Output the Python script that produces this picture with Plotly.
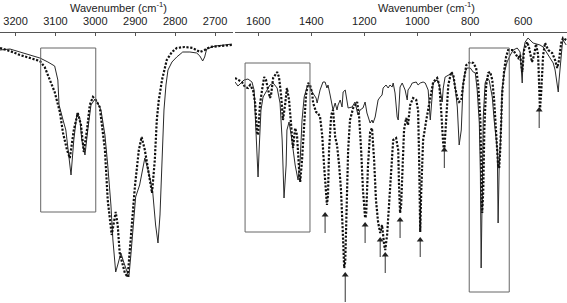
import plotly.graph_objects as go

# ---------------- data: high-wavenumber region (left panel) ----------------
left_solid_wn = [3239, 3214, 3189, 3164, 3139, 3119, 3102, 3094, 3091, 3081, 3074, 3061, 3054, 3046,
                 3039, 3034, 3026, 3019, 3011, 3001, 2994, 2986, 2976, 2969, 2961, 2956, 2949, 2944,
                 2936, 2929, 2924, 2916, 2911, 2906, 2899, 2889, 2881, 2876, 2866, 2856, 2849, 2843,
                 2838, 2833, 2828, 2823, 2818, 2808, 2796, 2781, 2763, 2746, 2738, 2731, 2726, 2721,
                 2700, 2676, 2658]
left_solid_T = [253, 254, 251, 248, 245, 241, 237, 223, 198, 183, 173, 128, 163, 190,
                185, 163, 148, 173, 198, 204, 200, 193, 168, 138, 98, 63, 31, 38,
                50, 41, 35, 26, 48, 70, 106, 118, 133, 145, 130, 110, 78, 60,
                88, 138, 193, 218, 233, 241, 246, 251, 251, 250, 247, 242, 246, 254,
                257, 258, 259]

left_dot_wn = [3239, 3214, 3189, 3164, 3139, 3127, 3114, 3102, 3089, 3081, 3071, 3064, 3054, 3044,
               3036, 3029, 3021, 3014, 3006, 2999, 2989, 2976, 2969, 2959, 2949, 2944, 2939, 2926,
               2919, 2911, 2901, 2891, 2884, 2876, 2866, 2858, 2851, 2846, 2841, 2833, 2821, 2808,
               2796, 2776, 2756, 2738, 2726, 2713, 2688, 2658]
left_dot_T = [255, 252, 248, 245, 242, 236, 223, 211, 191, 170, 153, 145, 173, 190,
              178, 151, 173, 198, 206, 203, 196, 153, 103, 68, 91, 78, 50, 30,
              26, 70, 116, 153, 166, 153, 130, 110, 143, 183, 203, 223, 243, 251,
              255, 256, 255, 251, 253, 256, 257, 258]

# ---------------- data: fingerprint region (right panel) ----------------
right_solid_wn = [1688, 1677, 1665, 1654, 1639, 1624, 1616, 1612, 1605, 1601, 1597, 1590, 1582, 1567,
                  1556, 1544, 1529, 1518, 1510, 1503, 1495, 1492, 1484, 1476, 1469, 1461, 1450, 1442,
                  1435, 1427, 1416, 1408, 1397, 1382, 1378, 1367, 1356, 1348, 1341, 1337, 1329, 1322,
                  1318, 1310, 1303, 1299, 1291, 1284, 1280, 1272, 1265, 1261, 1246, 1235, 1224, 1216,
                  1205, 1197, 1190, 1186, 1178, 1171, 1167, 1159, 1152, 1148, 1140, 1133, 1129, 1118,
                  1110, 1103, 1095, 1091, 1084, 1076, 1072, 1069, 1065, 1057, 1046, 1038, 1035, 1027,
                  1019, 1004, 997, 989, 978, 970, 959, 951, 944, 940, 925, 917, 906, 902,
                  895, 883, 868, 864, 857, 849, 846, 842, 834, 830, 827, 819, 812, 800,
                  789, 781, 774, 766, 762, 759, 755, 751, 744, 736, 729, 717, 710, 698,
                  695, 691, 683, 680, 672, 661, 649, 638, 623, 612, 604, 600, 593, 582,
                  563, 548, 537, 525, 510, 499, 487, 480, 472, 468, 465, 461, 453, 450, 438]
right_solid_T = [221, 217, 220, 223, 224, 221, 213, 193, 153, 126, 153, 193, 206, 213,
                 218, 220, 215, 200, 163, 105, 138, 173, 181, 168, 151, 138, 123, 143,
                 183, 206, 216, 218, 211, 205, 200, 213, 221, 221, 215, 218, 208, 200,
                 193, 200, 193, 198, 203, 196, 211, 213, 203, 195, 196, 201, 188, 193,
                 195, 201, 190, 186, 180, 183, 180, 186, 196, 203, 206, 208, 215, 218,
                 215, 218, 216, 220, 210, 186, 183, 206, 216, 220, 213, 203, 213, 216,
                 220, 221, 218, 220, 221, 220, 213, 183, 210, 220, 223, 218, 201, 215,
                 226, 228, 230, 226, 216, 196, 170, 158, 173, 196, 220, 231, 235, 235,
                 231, 230, 213, 180, 130, 35, 103, 186, 220, 225, 223, 206, 183, 153,
                 80, 136, 180, 213, 230, 241, 248, 253, 255, 251, 220, 251, 261, 265,
                 260, 259, 258, 256, 250, 246, 240, 233, 218, 211, 223, 238, 258, 263, 258]

right_dot_wn = [1688, 1677, 1662, 1650, 1639, 1631, 1620, 1612, 1609, 1605, 1601, 1594, 1586, 1578,
                1571, 1563, 1556, 1552, 1544, 1529, 1522, 1514, 1507, 1499, 1492, 1484, 1476, 1469,
                1461, 1454, 1446, 1442, 1435, 1427, 1420, 1412, 1405, 1397, 1393, 1382, 1375, 1367,
                1359, 1352, 1344, 1341, 1337, 1333, 1325, 1318, 1310, 1303, 1295, 1288, 1280, 1276,
                1272, 1265, 1261, 1254, 1242, 1227, 1220, 1212, 1205, 1197, 1193, 1186, 1178, 1171,
                1163, 1156, 1148, 1140, 1133, 1125, 1121, 1114, 1106, 1099, 1091, 1080, 1072, 1069,
                1065, 1061, 1057, 1050, 1042, 1035, 1027, 1016, 1004, 997, 993, 989, 985, 978,
                966, 951, 940, 925, 917, 910, 902, 898, 891, 883, 872, 864, 857, 849,
                842, 834, 827, 815, 800, 789, 778, 770, 762, 759, 755, 751, 747, 740,
                732, 725, 717, 710, 702, 695, 691, 687, 680, 672, 665, 657, 649, 638,
                627, 619, 612, 604, 597, 585, 578, 567, 559, 552, 544, 540, 537, 533,
                525, 518, 506, 491, 480, 472, 465, 457, 450, 438]
right_dot_T = [225, 223, 221, 216, 215, 218, 213, 200, 183, 171, 168, 198, 213, 226,
               223, 213, 205, 208, 225, 231, 226, 208, 183, 198, 215, 203, 178, 155,
               175, 168, 133, 121, 143, 183, 208, 220, 218, 210, 200, 191, 190, 186,
               168, 138, 103, 98, 108, 153, 188, 193, 166, 158, 138, 113, 63, 35,
               41, 103, 153, 183, 195, 201, 188, 153, 113, 85, 88, 138, 171, 175,
               143, 103, 81, 70, 78, 58, 53, 68, 103, 138, 163, 165, 153, 118,
               90, 98, 123, 173, 185, 178, 198, 205, 203, 193, 143, 71, 113, 163,
               183, 203, 221, 225, 218, 193, 158, 153, 188, 218, 231, 228, 215, 205,
               201, 203, 218, 238, 241, 240, 235, 218, 183, 133, 90, 113, 173, 218,
               230, 231, 223, 203, 163, 138, 135, 153, 208, 233, 246, 253, 253, 253,
               248, 245, 248, 231, 253, 261, 255, 241, 248, 259, 248, 203, 193, 208,
               248, 260, 253, 250, 243, 235, 243, 260, 265, 263]

# marked bands (arrows) on the dotted spectrum
arrow_wn = [1348, 1272, 1197, 1140, 1121, 1065, 989, 898, 540]
arrow_tip_T = [90, 30, 80, 65, 50, 85, 65, 155, 195]
arrow_tail_T = [70, 1, 60, 46, 30, 65, 46, 135, 175]

# highlighted regions (boxes): (axis, wn_start, wn_end, T_low, T_high)
boxes = [("x", 3137, 2999, 91, 255),
         ("x2", 1650, 1405, 71, 240),
         ("x2", 804, 653, 11, 255)]

left_ticks = [3200, 3100, 3000, 2900, 2800, 2700]
right_ticks = [1600, 1400, 1200, 1000, 800, 600]
axis_title = "Wavenumber (cm<sup>-1</sup>)"

W, H = 567, 303
FONT = "Arial, 'Liberation Sans', sans-serif"

fig = go.Figure()
solid_style = dict(color="#2a2a2a", width=1)
dot_style = dict(color="#111111", width=2.2, dash="2.2px,1.6px")

fig.add_trace(go.Scatter(x=left_solid_wn, y=left_solid_T, mode="lines", line=solid_style,
                         xaxis="x", yaxis="y"))
fig.add_trace(go.Scatter(x=left_dot_wn, y=left_dot_T, mode="lines", line=dot_style,
                         xaxis="x", yaxis="y"))
fig.add_trace(go.Scatter(x=right_solid_wn, y=right_solid_T, mode="lines", line=solid_style,
                         xaxis="x2", yaxis="y"))
fig.add_trace(go.Scatter(x=right_dot_wn, y=right_dot_T, mode="lines", line=dot_style,
                         xaxis="x2", yaxis="y"))

for ax, x0, x1, y0, y1 in boxes:
    fig.add_shape(type="rect", xref=ax, yref="y", x0=x0, x1=x1, y0=y0, y1=y1,
                  line=dict(color="#666666", width=1), fillcolor="rgba(0,0,0,0)")

# arrows: shafts + arrow heads (triangle markers at the tips)
shaft_x, shaft_y = [], []
for wn, tip, tail in zip(arrow_wn, arrow_tip_T, arrow_tail_T):
    shaft_x += [wn, wn, None]
    shaft_y += [tip - 3, tail, None]
fig.add_trace(go.Scatter(x=shaft_x, y=shaft_y, mode="lines",
                         line=dict(color="#333333", width=1), xaxis="x2", yaxis="y"))
fig.add_trace(go.Scatter(x=arrow_wn, y=[t - 2 for t in arrow_tip_T], mode="markers",
                         marker=dict(symbol="triangle-up", size=6, color="#222222",
                                     line=dict(width=0)),
                         xaxis="x2", yaxis="y", cliponaxis=False))

for xc in (118 / W, 426 / W):
    fig.add_annotation(x=xc, y=(H - 7) / H, xref="paper", yref="paper", text=axis_title,
                       showarrow=False, xanchor="center", yanchor="middle",
                       font=dict(family=FONT, size=11, color="#222222"))

common_x = dict(side="top", anchor="y", showline=True, linecolor="#555555", linewidth=1,
                ticks="inside", ticklen=3, tickcolor="#555555", showgrid=False,
                zeroline=False, ticklabelstandoff=3,
                tickfont=dict(family=FONT, size=11, color="#222222"))

fig.update_layout(
    width=W, height=H,
    margin=dict(l=0, r=0, t=0, b=0),
    paper_bgcolor="white", plot_bgcolor="white",
    showlegend=False,
    xaxis=dict(domain=[0, 233 / W], range=[3239, 2655], tickvals=left_ticks, **common_x),
    xaxis2=dict(domain=[235 / W, 1], range=[1688, 435], tickvals=right_ticks, **common_x),
    yaxis=dict(domain=[0, 270 / H], range=[0, 270], visible=False),
)

fig.write_html("out.html", config={"displayModeBar": False},
               post_script="document.body.style.margin='0';document.body.style.overflow='hidden';")
